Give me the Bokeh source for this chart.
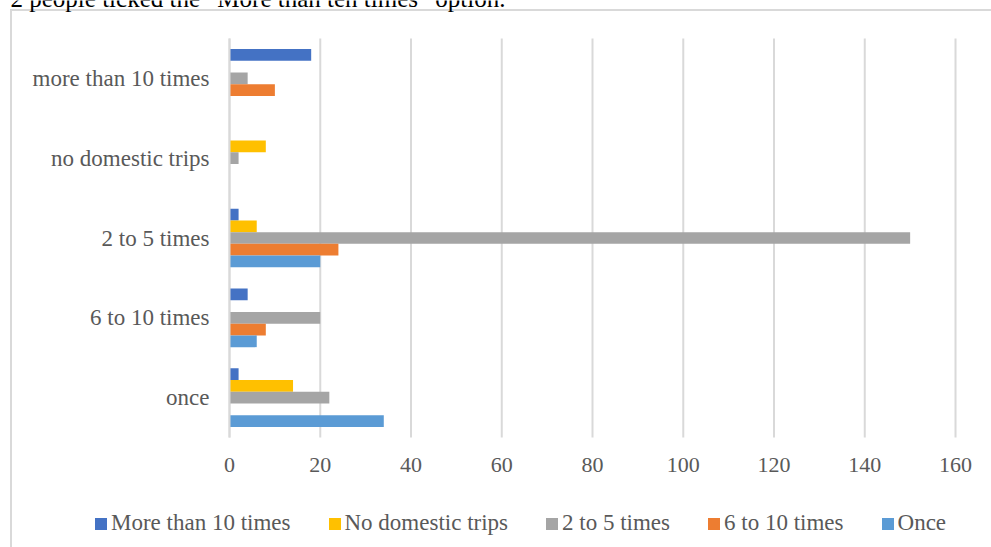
from bokeh.plotting import figure
from bokeh.models import (Range1d, FixedTicker, Legend, LegendItem, Label, ColumnDataSource)
from bokeh.transform import dodge
from bokeh.embed import file_html
from bokeh.resources import INLINE

# ---- data (categories listed bottom to top) ----
categories = ["once", "6 to 10 times", "2 to 5 times", "no domestic trips", "more than 10 times"]
series_names = ["More than 10 times", "No domestic trips", "2 to 5 times", "6 to 10 times", "Once"]
more_than_10 = [2, 4, 2, 0, 18]
no_domestic = [14, 0, 6, 8, 0]
two_to_five = [22, 20, 150, 2, 4]
six_to_ten = [0, 8, 24, 0, 10]
once = [34, 6, 20, 0, 0]
x_ticks = [0, 20, 40, 60, 80, 100, 120, 140, 160]
note_text = "2 people ticked the \u201cMore than ten times\u201d option."

series_values = [more_than_10, no_domestic, two_to_five, six_to_ten, once]
colors = ["#4472C4", "#FFC000", "#A5A5A5", "#ED7D31", "#5B9BD5"]

FONT = "Liberation Serif"
TXT = "#595959"
GRID = "#D9D9D9"

y_pos = list(range(len(categories)))
cat_lo, cat_hi = y_pos[0] - 0.5, y_pos[-1] + 0.5

# the frame covers the whole picture; axes are pinned inside it with fixed_location
p = figure(width=991, height=547, output_backend="svg", toolbar_location=None,
           x_range=Range1d(-50.47, 167.93), y_range=Range1d(-1.878, 4.976),
           min_border=0)
p.outline_line_color = None
p.border_fill_color = None
p.background_fill_color = None
p.styles = {
    "background-color": "white",
    "background-image": "linear-gradient(#D9D9D9, #D9D9D9), linear-gradient(#D9D9D9, #D9D9D9)",
    "background-size": "990px 2px, 2px 560px",
    "background-position": "10px 9px, 10px 9px",
    "background-repeat": "no-repeat",
}
p.xgrid.visible = False
p.ygrid.visible = False

# vertical gridlines at the value ticks, spanning the category band
p.segment(x0=x_ticks, x1=x_ticks, y0=cat_lo, y1=cat_hi, line_color=GRID, line_width=2)

src = {"pos": y_pos}
for name, vals in zip(series_names, series_values):
    src[name] = vals
source = ColumnDataSource(src)

pitch = 0.147
offsets = [2 * pitch, pitch, 0, -pitch, -2 * pitch]
renderers = []
for name, off, col in zip(series_names, offsets, colors):
    r = p.hbar(y=dodge("pos", off), right=name, left=0, height=pitch,
               source=source, fill_color=col, line_color=None)
    renderers.append(r)

# x axis
p.xaxis.fixed_location = cat_lo
p.xaxis.bounds = (x_ticks[0], x_ticks[-1])
p.xaxis.ticker = FixedTicker(ticks=x_ticks)
p.xaxis.axis_line_color = None
p.xaxis.major_tick_line_color = None
p.xaxis.minor_tick_line_color = None
p.xaxis.major_label_text_font = FONT
p.xaxis.major_label_text_font_size = "22px"
p.xaxis.major_label_text_color = TXT
p.xaxis.major_label_standoff = 14

# category axis
p.yaxis.fixed_location = 0
p.yaxis.bounds = (cat_lo, cat_hi)
p.yaxis.ticker = FixedTicker(ticks=y_pos)
p.yaxis.major_label_overrides = {i: c for i, c in zip(y_pos, categories)}
p.yaxis.axis_line_color = GRID
p.yaxis.axis_line_width = 2
p.yaxis.major_tick_line_color = None
p.yaxis.minor_tick_line_color = None
p.yaxis.major_tick_out = 0
p.yaxis.major_label_text_font = FONT
p.yaxis.major_label_text_font_size = "23px"
p.yaxis.major_label_text_color = TXT
p.yaxis.major_label_standoff = 20

# legend along the bottom
legend = Legend(items=[LegendItem(label=n, renderers=[r]) for n, r in zip(series_names, renderers)],
                orientation="horizontal", location=(93, 11),
                border_line_color=None, background_fill_alpha=0,
                label_text_font=FONT, label_text_font_size="23px", label_text_color=TXT,
                glyph_width=15, glyph_height=15, label_standoff=3, spacing=36,
                padding=0, margin=0)
p.add_layout(legend, "center")

# the note above the chart, mostly cut off by the top edge
p.add_layout(Label(x=10, y=-2, x_units="canvas", y_units="canvas", text=note_text,
                   text_font=FONT, text_font_size="25px", text_color="black",
                   text_baseline="alphabetic"))

open("out.html", "w").write(file_html(p, INLINE))
